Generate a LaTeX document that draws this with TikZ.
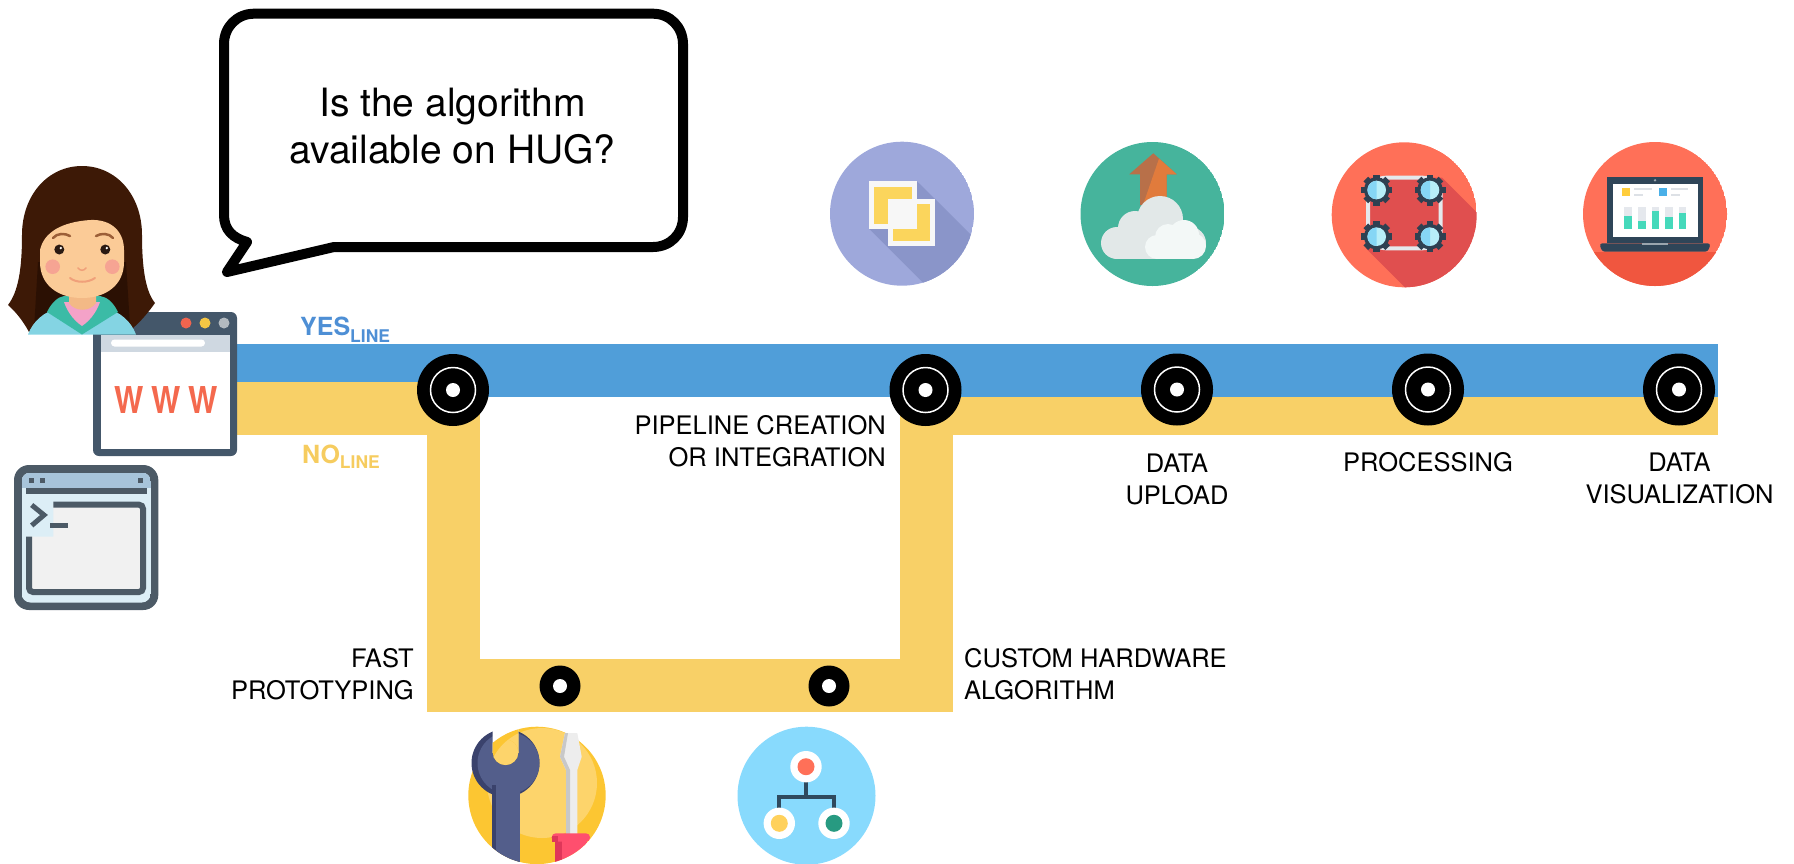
\documentclass[tikz,border=0pt]{standalone}
\usepackage{fontspec}
\setmainfont{TeX Gyre Heros}
% line colours
\definecolor{blueband}{HTML}{509ED9}
\definecolor{yellowband}{HTML}{F8D067}
\definecolor{yestext}{HTML}{4E8FD5}
\definecolor{notext}{HTML}{F6CC5F}
% browser and terminal
\definecolor{wwwred}{HTML}{F4694E}
\definecolor{browserdark}{HTML}{44576A}
\definecolor{addrbar}{HTML}{CFD8E1}
\definecolor{dotred}{HTML}{F0644F}
\definecolor{dotyellow}{HTML}{F5C644}
\definecolor{dotgray}{HTML}{B3BAC0}
\definecolor{termdark}{HTML}{4C5A66}
\definecolor{termbar}{HTML}{A7C4DA}
\definecolor{termbg}{HTML}{DCEEF6}
\definecolor{termpanel}{HTML}{F1F1F1}
% person
\definecolor{hair}{HTML}{3D1906}
\definecolor{hairdark}{HTML}{2B1003}
\definecolor{skin}{HTML}{FBCB97}
\definecolor{skinshade}{HTML}{F3B986}
\definecolor{cheek}{HTML}{F6A493}
\definecolor{eyes}{HTML}{2A1A12}
\definecolor{brow}{HTML}{9C5F38}
\definecolor{smile}{HTML}{F0A07A}
\definecolor{hoodie}{HTML}{84D4E3}
\definecolor{collar}{HTML}{3BBBA6}
\definecolor{shirt}{HTML}{F4A2C8}
% icons
\definecolor{purplebg}{HTML}{9EA8DB}
\definecolor{purpleshade}{HTML}{8A95C9}
\definecolor{sqwhite}{HTML}{F7F7F7}
\definecolor{sqyellow}{HTML}{FBD55C}
\definecolor{greenbg}{HTML}{46B49C}
\definecolor{arrowdark}{HTML}{B87049}
\definecolor{arrowlight}{HTML}{E17B3C}
\definecolor{cloudback}{HTML}{E2E8E8}
\definecolor{cloudfront}{HTML}{F3F8F7}
\definecolor{redbg}{HTML}{FF7058}
\definecolor{redshade}{HTML}{E04F4F}
\definecolor{gearnavy}{HTML}{2F4051}
\definecolor{lensA}{HTML}{86D6F5}
\definecolor{lensB}{HTML}{B8EEF8}
\definecolor{linkgray}{HTML}{E4E9ED}
\definecolor{laptopbottom}{HTML}{F0563F}
\definecolor{laptopnavy}{HTML}{2F4558}
\definecolor{barbg}{HTML}{E5E8ED}
\definecolor{barteal}{HTML}{45D9BB}
\definecolor{legendyellow}{HTML}{FFCD3C}
\definecolor{legendblue}{HTML}{4AB0E8}
\definecolor{legendgray}{HTML}{DDE1E6}
\definecolor{notchgray}{HTML}{9AA5AE}
\definecolor{wrenchbg}{HTML}{FCC632}
\definecolor{wrenchlight}{HTML}{FDD46B}
\definecolor{wrenchmain}{HTML}{535E8B}
\definecolor{wrenchdark}{HTML}{3A426C}
\definecolor{bladelight}{HTML}{EDEDED}
\definecolor{bladedark}{HTML}{C8C8C8}
\definecolor{handlered}{HTML}{FF4F6E}
\definecolor{handledark}{HTML}{DF3759}
\definecolor{netbg}{HTML}{88DAFD}
\definecolor{netnavy}{HTML}{2F4A5E}
\definecolor{netred}{HTML}{FF7058}
\definecolor{netyellow}{HTML}{FFD15C}
\definecolor{netgreen}{HTML}{279A81}

\begin{document}
\begin{tikzpicture}[x=1pt,y=-1pt,
  yesline/.style={blueband, line width=53pt},
  noline/.style={yellowband, line width=53pt, line join=miter},
  bigstop/.style={circle, fill=black, minimum size=72pt, inner sep=0pt},
  smallstop/.style={circle, fill=black, minimum size=41pt, inner sep=0pt},
  lbl/.style={font=\fontsize{25.5}{32}\selectfont, inner sep=0pt, text=black},
  linename/.style={font=\bfseries\fontsize{25}{30}\selectfont, inner sep=0pt, anchor=base west}]

\useasboundingbox (0,0) rectangle (1794,863);
\clip (0,0) rectangle (1794,863);

% ---------- the two lines ----------
\coordinate (ystart) at (237,370.5);
\coordinate (ymid)   at (453,370.5);
\coordinate (yend)   at (1718,370.5);
\coordinate (nstart) at (237,408.5);
\coordinate (nc1)    at (453,408.5);
\coordinate (nb1)    at (453,685);
\coordinate (nb2)    at (926,685);
\coordinate (nc2)    at (926,408.5);
\coordinate (nend)   at (1718,408.5);

\draw[yesline] (ystart) -- (ymid);
\draw[noline] (nstart) -- (nc1) -- (nb1) -- (nb2) -- (nc2) -- (nend);
\draw[yesline] (ymid) -- (yend);

% ---------- stations ----------
\foreach \n/\x/\y in {s1/453/390, s2/925.5/390, s3/1177/389.5, s4/1428/389.5, s5/1679/389.5}{
  \node[bigstop] (\n) at (\x,\y) {};
  \draw[white, line width=1.5pt] (\n.center) circle (22.5pt);
  \fill[white] (\n.center) circle (7pt);
}
\foreach \n/\x in {b1/560, b2/829}{
  \node[smallstop] (\n) at (\x,686) {};
  \fill[white] (\n.center) circle (7pt);
}

% ---------- line names ----------
\node[linename, text=yestext] (yesname) at (300,335)
  {YES{\fontsize{17.5}{20}\selectfont\raisebox{-7pt}{LINE}}};
\node[linename, text=notext] (noname) at (302,463)
  {NO{\fontsize{17.5}{20}\selectfont\raisebox{-5pt}{LINE}}};

% ---------- browser window ----------
\fill[browserdark, rounded corners=6pt] (93,312) rectangle (237,456);
\fill[white] (100.5,335) rectangle (230,448.5);
\fill[addrbar] (100.5,335) rectangle (230,352);
\fill[white, rounded corners=3.5pt] (111,339.5) rectangle (205,346.5);
\fill[dotred] (186,323) circle (5.5pt);
\fill[dotyellow] (205,323) circle (5.5pt);
\fill[dotgray] (224,323) circle (5.5pt);
\node[anchor=base, inner sep=0pt, text=wwwred, font=\bfseries\fontsize{37}{40}\selectfont] (www) at (166,413.3)
  {\scalebox{0.84}[1]{W\hspace{9pt}W\hspace{9pt}W}};

% ---------- person ----------
\fill[hair] (22,235) .. controls (22,195) and (48,166) .. (82,166)
  .. controls (116,166) and (142,195) .. (142,235)
  .. controls (142,270) and (146,292) .. (155,303)
  .. controls (148,313) and (140,322) .. (133,328) -- (30,334)
  .. controls (24,322) and (16,312) .. (8,305)
  .. controls (18,292) and (22,270) .. (22,235) -- cycle;
\fill[hairdark] (38,262) -- (126,262) -- (130,326) -- (34,330) -- cycle;
\fill[hoodie] (28,334.5) .. controls (33,321) and (44,312) .. (58,308) -- (106,308)
  .. controls (120,312) and (131,321) .. (136,334.5) -- cycle;
\fill[collar] (47,312) .. controls (52,302) and (58,297) .. (64,296) -- (100,296)
  .. controls (107,297) and (113,302) .. (118,312) -- (82,334.5) -- cycle;
\fill[shirt] (64,302) -- (100,302) .. controls (96,314) and (88,322) .. (82,326)
  .. controls (76,322) and (68,314) .. (64,302) -- cycle;
\fill[skinshade] (69,282) -- (96,282) -- (96,303) .. controls (90,312) and (75,312) .. (69,303) -- cycle;
\fill[skin] (40,250) .. controls (44,232) and (62,222) .. (90,220)
  .. controls (112,219) and (124,232) .. (124,250) -- (124,262)
  .. controls (124,285) and (106,298) .. (82,298)
  .. controls (58,298) and (40,285) .. (40,262) -- cycle;
\draw[brow, line width=2.5pt, line cap=round] (53,238) .. controls (57,233) and (65,233) .. (70,236);
\draw[brow, line width=2.5pt, line cap=round] (96,236) .. controls (101,233) and (109,233) .. (113,238);
\fill[eyes] (59.3,249.5) circle (5pt);
\fill[eyes] (105.3,249.5) circle (5pt);
\fill[white] (60.8,248) circle (1.3pt);
\fill[white] (106.8,248) circle (1.3pt);
\fill[cheek] (52.7,266.7) circle (7.3pt);
\fill[cheek] (112.3,266.7) circle (7.3pt);
\draw[smile, line width=1.5pt, line cap=round] (78,268) .. controls (80,271) and (84,271) .. (86,268);
\draw[smile, line width=2pt, line cap=round] (70,278) .. controls (76,283) and (88,283) .. (95,278);

% ---------- terminal window ----------
\fill[termdark, rounded corners=15pt] (14,465) rectangle (158.3,610);
\begin{scope}
  \clip[rounded corners=9pt] (21.5,472.5) rectangle (150.8,602.5);
  \fill[termbg] (21.5,472.5) rectangle (150.8,602.5);
  \fill[termbar] (21.5,472.5) rectangle (150.8,488.3);
\end{scope}
\fill[termdark] (26,488.3) rectangle (146.7,494.3);
\fill[termdark] (29.3,477.7) rectangle (34.3,482.7);
\fill[termdark] (40,477.7) rectangle (45,482.7);
\fill[termdark] (137.7,477.7) rectangle (142.7,482.7);
\fill[termpanel] (53.3,504.7) -- (143,504.7) -- (143,592) -- (29,592) -- (29,536.7) -- (53.3,536.7) -- cycle;
\draw[termdark, line width=6pt, rounded corners=4pt] (53.3,504.7) -- (143,504.7) -- (143,592) -- (29,592) -- (29,536.7);
\draw[termdark, line width=5pt] (31.7,505) -- (44,515) -- (31.7,525.5);
\fill[termdark] (50,523.3) rectangle (68.3,527.7);

% ---------- speech bubble ----------
\draw[black, fill=white, line width=10pt, line join=round]
  (224,44) .. controls (224,27) and (237,13.7) .. (254,13.7) -- (653,13.7)
  .. controls (670,13.7) and (683,27) .. (683,44) -- (683,217)
  .. controls (683,234) and (670,247) .. (653,247) -- (334,247) -- (227,272) -- (247,242)
  .. controls (233,238) and (224,230) .. (224,215) -- cycle;
\node[anchor=north, align=center, inner sep=0pt, font=\fontsize{39}{47}\selectfont] (question) at (452.5,88)
  {Is the algorithm\\available on HUG?};

% ---------- icon: pipeline creation ----------
\begin{scope}
  \clip (902,213.7) circle (72pt);
  \fill[purplebg] (902,213.7) circle (72pt);
  \fill[purpleshade] (916.7,181) -- (935,199) -- (1085,349) -- (1019.3,379) -- (869.3,229) -- cycle;
\end{scope}
\fill[sqwhite] (869.3,181) rectangle (916.7,229);
\fill[sqyellow] (874.3,186.7) rectangle (911.7,224);
\fill[sqwhite] (887.7,199) rectangle (935,246);
\fill[sqyellow] (892.7,204.3) rectangle (930,241);
\fill[sqwhite] (887.7,199) rectangle (916.7,229);

% ---------- icon: data upload ----------
\begin{scope}
  \clip (1152.5,214) circle (72pt);
  \fill[greenbg] (1152.5,214) circle (72pt);
  \fill[arrowdark] (1153.3,153.3) -- (1176.7,174.3) -- (1166.7,174.3) -- (1166.7,205)
    -- (1140,205) -- (1140,174.3) -- (1129.3,174.3) -- cycle;
  \fill[arrowlight] (1159,158.6) -- (1176.7,174.3) -- (1166.7,174.3) -- (1166.7,205) -- (1143,205) -- cycle;
  \fill[cloudback] (1117,243) circle (16pt);
  \fill[cloudback] (1135,228) circle (17pt);
  \fill[cloudback] (1160,219) circle (23pt);
  \fill[cloudback] (1190,243) circle (16pt);
  \fill[cloudback] (1117,236) rectangle (1190,259);
  \fill[cloudfront] (1157,247) circle (12pt);
  \fill[cloudfront] (1168,237) circle (13pt);
  \fill[cloudfront] (1184,235) circle (15pt);
  \fill[cloudfront] (1193,246) circle (13pt);
  \fill[cloudfront] (1157,242) rectangle (1193,259);
\end{scope}

% ---------- icon: processing ----------
\begin{scope}
  \clip (1404.2,214.8) circle (72.5pt);
  \fill[redbg] (1404.2,214.8) circle (72.5pt);
  \fill[redshade] (1368,177.7) -- (1442,177.7) -- (1642,377.7) -- (1566,448.3) -- (1366,248.3) -- cycle;
\end{scope}
\draw[linkgray, line width=4pt, rounded corners=18pt] (1368,177.7) rectangle (1440.7,248.3);
\foreach \gx/\gy in {1376.7/190, 1430/190, 1376.7/236.7, 1430/236.7}{
  \begin{scope}[shift={(\gx,\gy)}]
    \foreach \a in {0,45,...,315}{
      \fill[gearnavy, rotate=\a] (-3.3,-15.5) rectangle (3.3,-9);
    }
    \fill[gearnavy] (0,0) circle (12.8pt);
    \fill[lensB] (0,0) circle (9.3pt);
    \begin{scope}
      \clip (-10,-10) rectangle (0,10);
      \fill[lensA] (0,0) circle (9.3pt);
    \end{scope}
  \end{scope}
}

% ---------- icon: data visualization ----------
\begin{scope}
  \clip (1655,214) circle (72pt);
  \fill[redbg] (1655,214) circle (72pt);
  \fill[laptopbottom] (1580,251.7) rectangle (1730,290);
\end{scope}
\fill[laptopnavy] (1607.3,176.7) rectangle (1702.7,243.3);
\fill[white] (1612.7,184.3) rectangle (1698.3,236.7);
\fill[notchgray] (1655,180.3) circle (1.3pt);
\fill[laptopnavy, rounded corners=3pt] (1599.3,243.3) -- (1710.7,243.3) -- (1708,251.7) -- (1602,251.7) -- cycle;
\fill[notchgray] (1641.7,243.3) rectangle (1668.3,245.3);
\fill[legendyellow] (1622.3,188.3) rectangle (1630,196);
\fill[legendblue] (1659.3,188.3) rectangle (1666.7,196);
\fill[legendgray] (1634,188.3) rectangle (1651.7,190);
\fill[legendgray] (1634,194.3) rectangle (1643,196);
\fill[legendgray] (1670.7,188.3) rectangle (1688.3,190);
\fill[legendgray] (1670.7,194.3) rectangle (1680,196);
\foreach \bx/\bt in {1624.3/215.7, 1638.3/221, 1651.7/211, 1665.3/217.3, 1678.7/212.7}{
  \fill[barbg] (\bx,206.7) rectangle ++(7.7,22.6);
  \fill[barteal] (\bx,\bt) rectangle (\bx+7.7,229.3);
}

% ---------- icon: fast prototyping ----------
\fill[wrenchbg] (537,795.4) circle (68.7pt);
\begin{scope}
  \clip (537,795.4) circle (68.7pt);
  \fill[wrenchlight] (542,783) circle (55pt);
\end{scope}
\fill[wrenchdark] (505.5,763) circle (34pt);
\fill[wrenchmain] (508.5,763) circle (31pt);
\begin{scope}
  \clip (537,795.4) circle (68.7pt);
  \fill[wrenchdark] (491.7,785) rectangle (520,870);
  \fill[wrenchmain] (496,785) rectangle (520,870);
\end{scope}
% jaw opening of the wrench
\begin{scope}
  \clip (492.7,715) rectangle (518.3,752.2);
  \fill[white] (480,715) rectangle (530,760);
  \fill[wrenchbg] (537,795.4) circle (68.7pt);
  \clip (537,795.4) circle (68.7pt);
  \fill[wrenchlight] (542,783) circle (55pt);
\end{scope}
\begin{scope}
  \clip (505.5,752.2) circle (12.8pt);
  \fill[wrenchbg] (537,795.4) circle (68.7pt);
  \fill[wrenchlight] (542,783) circle (55pt);
\end{scope}
% screwdriver
\fill[bladelight] (565,733) -- (577.3,733) -- (581.7,756.7) -- (577.3,770) -- (577.3,834)
  -- (566,834) -- (566,770) -- (560,756.7) -- cycle;
\fill[bladedark] (565,733) -- (568,733) -- (564,756.7) -- (570,770) -- (570,834)
  -- (566,834) -- (566,770) -- (560,756.7) -- cycle;
\begin{scope}
  \clip (537,795.4) circle (68.7pt);
  \fill[handlered] (555,838) rectangle (586.7,870);
  \fill[handledark] (555,838) rectangle (562,870);
  \fill[handlered, rounded corners=4pt] (551.7,833.3) rectangle (590,841.7);
  \fill[handledark] (551.7,835.5) rectangle (558,841.7);
\end{scope}

% ---------- icon: custom hardware algorithm ----------
\fill[netbg] (806.5,795.7) circle (69pt);
\draw[netnavy, line width=4pt] (779.3,812) -- (779.3,796.7) -- (834,796.7) -- (834,812);
\draw[netnavy, line width=4pt] (806,770) -- (806,796.7);
\foreach \cx/\cy/\cc in {806/766.7/netred, 779.3/823.3/netyellow, 834/823.3/netgreen}{
  \fill[white] (\cx,\cy) circle (15.7pt);
  \fill[\cc] (\cx,\cy) circle (8.5pt);
}

% ---------- station names ----------
\node[lbl, anchor=north east, align=right] (pipeline) at (886,415.6) {PIPELINE CREATION\\OR INTEGRATION};
\node[lbl, anchor=north, align=center] (upload) at (1177,453.3) {DATA\\UPLOAD};
\node[lbl, anchor=north, align=center] (processing) at (1428,452.3) {PROCESSING};
\node[lbl, anchor=north, align=center] (visual) at (1679.5,453) {DATA\\VISUALIZATION};
\node[lbl, anchor=north east, align=right] (fast) at (414,648.3) {FAST\\PROTOTYPING};
\node[lbl, anchor=north west, align=left] (custom) at (964,648.3) {CUSTOM HARDWARE\\ALGORITHM};

\end{tikzpicture}
\end{document}
